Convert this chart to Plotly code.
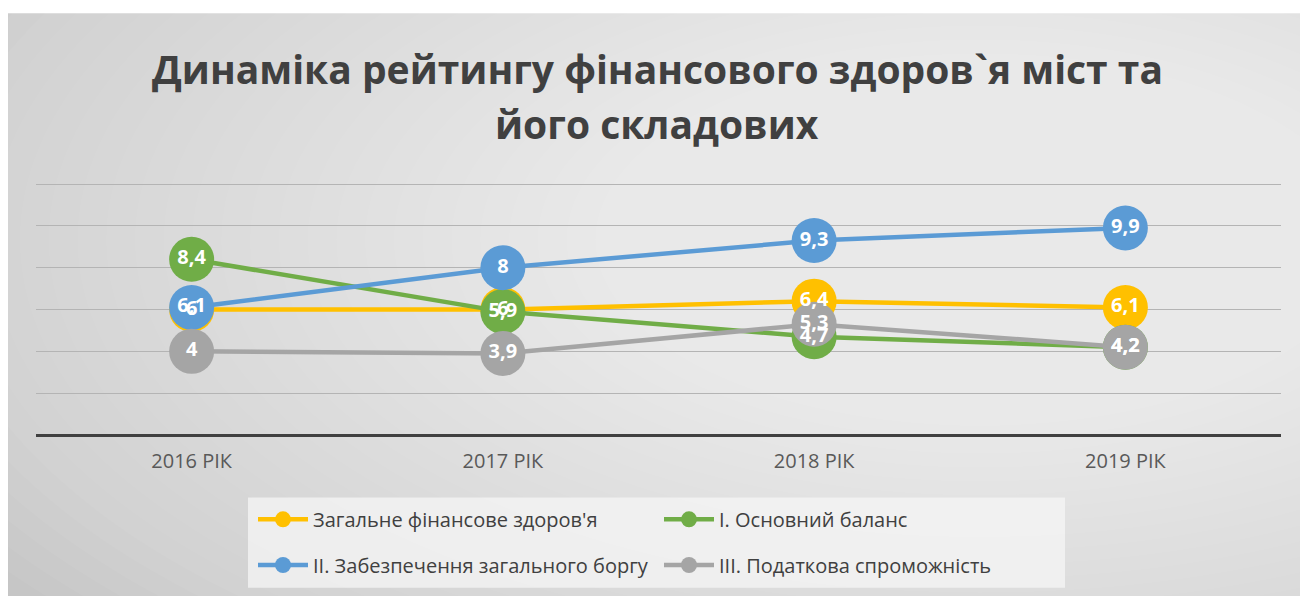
import plotly.graph_objects as go

categories = ["2016 РІК", "2017 РІК", "2018 РІК", "2019 РІК"]
series_names = [
    "Загальне фінансове здоров'я",
    "I. Основний баланс",
    "II. Забезпечення загального боргу",
    "III. Податкова спроможність",
]
health = [6, 6, 6.4, 6.1]
balance = [8.4, 5.9, 4.7, 4.2]
debt = [6.1, 8, 9.3, 9.9]
tax = [4, 3.9, 5.3, 4.2]
colors = ["#FFC000", "#70AD47", "#5B9BD5", "#A5A5A5"]
title_lines = ["Динаміка рейтингу фінансового здоров`я міст та", "його складових"]

all_series = [health, balance, debt, tax]


def fmt(v):
    return (f"{v:g}").replace(".", ",")


# page body has an 8px margin: figure is 1300x588, reference pixel coords are shifted by 8
OFF = 8
W, H = 1300, 588
l, r, t, b = 28, 27, 175, 159
pw, ph = W - l - r, H - t - b


def X(px):
    return (px - OFF - l) / pw


def Y(py):
    return (H - b - (py - OFF)) / ph


fig = go.Figure()
legend_ids = ["legend", "legend", "legend2", "legend2"]
for name, vals, col, lg in zip(series_names, all_series, colors, legend_ids):
    fig.add_trace(go.Scatter(
        x=categories, y=vals, name=name, mode="lines+markers",
        line=dict(color=col, width=4.5),
        marker=dict(color=col, size=45, line=dict(width=0)),
        hoverinfo="skip", legend=lg,
    ))
for name, vals, col in zip(series_names, all_series, colors):
    fig.add_trace(go.Scatter(
        x=categories, y=vals, mode="text", showlegend=False,
        text=[fmt(v) for v in vals], textposition="middle center",
        textfont=dict(family="Open Sans", size=20, color="white", weight="bold"),
        hoverinfo="skip",
    ))

shapes = []
shapes.append(dict(type="rect", xref="paper", yref="paper", layer="below",
                   x0=X(OFF), x1=X(1320), y0=Y(620), y1=Y(12),
                   fillcolor="#c6c6c6", line=dict(color="#c4c4c4", width=1)))
# approximate a soft radial gradient with stacked translucent ellipses
cx, cy = 980, 240
n = 40
for i in range(n):
    rx = 1150 * (1 - i / n) + 40
    ry = 560 * (1 - i / n) + 20
    shapes.append(dict(type="circle", xref="paper", yref="paper", layer="below",
                       x0=X(cx - rx), x1=X(cx + rx), y0=Y(cy + ry), y1=Y(cy - ry),
                       fillcolor="rgba(255,255,255,0.045)", line=dict(width=0)))
# white strips outside the frame (top / left)
shapes.append(dict(type="rect", xref="paper", yref="paper", layer="below",
                   x0=X(-20), x1=X(1340), y0=Y(12), y1=Y(-20),
                   fillcolor="white", line=dict(width=0)))
# legend panel
shapes.append(dict(type="rect", xref="paper", yref="paper", layer="below",
                   x0=X(248), x1=X(1065), y0=Y(591), y1=Y(500),
                   fillcolor="rgba(246,246,246,0.75)", line=dict(width=0)))

annotations = []
for txt, yc in zip(title_lines, [68, 123]):
    annotations.append(dict(text=txt, xref="paper", yref="paper", x=X(657), y=Y(yc),
                            xanchor="center", yanchor="middle", showarrow=False,
                            font=dict(family="Open Sans", size=39, color="#404040",
                                      weight="bold")))

legend_font = dict(family="Open Sans", size=20, color="#404040")
fig.update_layout(
    width=W, height=H,
    margin=dict(l=l, r=r, t=t, b=b),
    paper_bgcolor="white",
    plot_bgcolor="rgba(0,0,0,0)",
    shapes=shapes,
    annotations=annotations,
    xaxis=dict(showgrid=False, showline=False, ticks="",
               tickfont=dict(family="Open Sans", size=20, color="#595959"),
               ticklabelstandoff=12, range=[-0.5, 3.5]),
    yaxis=dict(range=[0, 12.05], tickvals=[0, 2, 4, 6, 8, 10, 12], showticklabels=False,
               gridcolor="#b4b4b4", gridwidth=1, zeroline=True, zerolinecolor="#404040",
               zerolinewidth=3, showline=False),
    legend=dict(orientation="h", x=X(253), xanchor="left", y=Y(522), yanchor="middle",
                entrywidth=341, entrywidthmode="pixels", bgcolor="rgba(0,0,0,0)",
                font=legend_font, itemwidth=50),
    legend2=dict(orientation="h", x=X(253), xanchor="left", y=Y(568), yanchor="middle",
                 entrywidth=341, entrywidthmode="pixels", bgcolor="rgba(0,0,0,0)",
                 font=legend_font, itemwidth=50),
    showlegend=True,
)

fig.write_html("out.html")
